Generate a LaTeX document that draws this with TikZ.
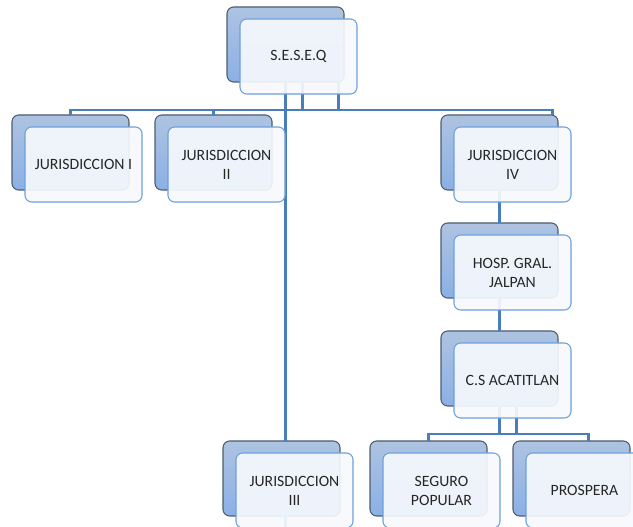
\documentclass[tikz,border=0pt]{standalone}
\usepackage{fontspec}
\setmainfont{Carlito}
\usetikzlibrary{positioning, calc}
\definecolor{backtop}{HTML}{AEC3E1}
\definecolor{backbottom}{HTML}{8BB0E6}
\definecolor{backborder}{HTML}{4F5C6D}
\definecolor{frontfill}{HTML}{F6F9FD}
\definecolor{frontborder}{HTML}{6CA0DC}
\definecolor{linkblue}{HTML}{4A7EBB}
\definecolor{textdark}{HTML}{262626}

\begin{document}
\begin{tikzpicture}[
    x=0.75pt, y=-0.75pt,
    font=\fontsize{11.8pt}{14.3pt}\selectfont,
    backbox/.style={
        rectangle, rounded corners=5pt,
        draw=backborder, line width=0.8pt,
        top color=backtop, bottom color=backbottom,
        minimum width=87.75pt, minimum height=56.25pt,
        inner sep=0pt, outer sep=0pt
    },
    frontbox/.style={
        rectangle, rounded corners=5pt,
        draw=frontborder, line width=0.8pt,
        fill=frontfill, fill opacity=0.92, text opacity=1,
        minimum width=87.75pt, minimum height=56.25pt,
        inner sep=0pt, outer sep=0pt,
        align=center, text=textdark
    },
    link/.style={
        draw=linkblue, line width=2.2pt
    }
]
\useasboundingbox (0,0) rectangle (633,527);

% ==========================================
% BACK PANELS
% ==========================================

\node[backbox, anchor=north west] (seseq-b) at (227,7) {};

\node[backbox, anchor=north west] (jur1-b) at (12,115) {};
\node[backbox, right=19.5pt of jur1-b] (jur2-b) {};
\node[backbox, anchor=north west] (jur4-b) at (441,115) {};
\node[backbox, below=24.75pt of jur4-b] (hosp-b) {};
\node[backbox, below=24.75pt of hosp-b] (cs-b) {};

\node[backbox, anchor=north west] (jur3-b) at (223,441) {};
\node[backbox, right=22.5pt of jur3-b] (seguro-b) {};
\node[backbox, right=19.5pt of seguro-b] (prospera-b) {};

% ==========================================
% CONNECTIONS
% ==========================================

\coordinate (hub) at (286,110);
\coordinate (hub2) at (500,434);

% from S.E.S.E.Q
\draw[link] (seseq-b.south) -- (seseq-b.south |- jur3-b.north);
\draw[link] ([xshift=13pt]seseq-b.south) -- ([xshift=13pt]seseq-b.south |- hub);
\draw[link] ([xshift=40pt]seseq-b.south) -- ([xshift=40pt]seseq-b.south |- hub);
\draw[link] (jur1-b.north) |- ([xshift=-4pt]jur4-b.north east |- hub)
    -- ([xshift=-4pt]jur4-b.north east);
\draw[link] (jur2-b.north) -- (jur2-b.north |- hub);
\draw[link] (seseq-b.south |- jur3-b.south) -- ++(0,12);

% right column
\draw[link] (jur4-b) -- (hosp-b);
\draw[link] (hosp-b) -- (cs-b);
\draw[link] (cs-b.south) -- (cs-b.south |- hub2);
\draw[link] ([xshift=12.75pt]cs-b.south) -- ([xshift=12.75pt]cs-b.south |- hub2);
\draw[link] (seguro-b.north) |- ([xshift=13pt]prospera-b.north |- hub2)
    -- ([xshift=13pt]prospera-b.north);

% ==========================================
% FRONT CARDS
% ==========================================

\node[frontbox, below right=9pt and 9.75pt of seseq-b.north west] (seseq) {S.E.S.E.Q};
\node[frontbox, below right=9pt and 9.75pt of jur1-b.north west] (jur1) {JURISDICCION I};
\node[frontbox, below right=9pt and 9.75pt of jur2-b.north west] (jur2) {JURISDICCION\\ II};
\node[frontbox, below right=9pt and 9.75pt of jur4-b.north west] (jur4) {JURISDICCION\\ IV};
\node[frontbox, below right=9pt and 9.75pt of hosp-b.north west] (hosp) {HOSP. GRAL.\\ JALPAN};
\node[frontbox, below right=9pt and 9.75pt of cs-b.north west] (cs) {C.S ACATITLAN};
\node[frontbox, below right=9pt and 9.75pt of jur3-b.north west] (jur3) {JURISDICCION\\ III};
\node[frontbox, below right=9pt and 9.75pt of seguro-b.north west] (seguro) {SEGURO\\ POPULAR};
\node[frontbox, below right=9pt and 9.75pt of prospera-b.north west] (prospera) {PROSPERA};

\end{tikzpicture}
\end{document}
